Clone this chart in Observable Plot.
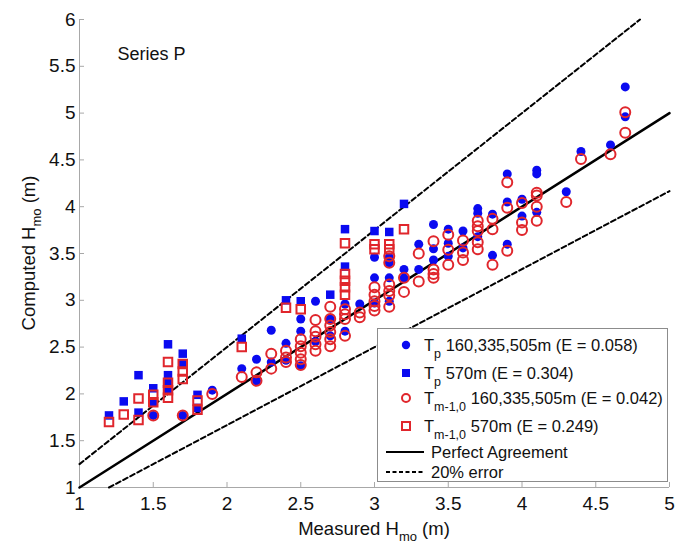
<!DOCTYPE html>
<html><head><meta charset="utf-8">
<script src="https://cdn.jsdelivr.net/npm/d3@7"></script>
<script src="https://cdn.jsdelivr.net/npm/@observablehq/plot@0.6"></script>
<style>
body{margin:0;background:#fff;font-family:"Liberation Sans",Arial,sans-serif;}
#wrap{position:relative;width:676px;height:544px;}
#legend{position:absolute;left:377px;top:328px;width:291px;height:154px;border:1px solid #8c8c8c;background:#fff;box-sizing:border-box;}
.row{position:absolute;left:0;width:288px;height:20px;line-height:20px;font-size:16.5px;color:#111;white-space:nowrap;}
.row svg{position:absolute;}
.row .t{position:absolute;top:0;}
.sub{position:relative;top:7px;font-size:12.5px;}
</style></head><body><div id="wrap"><div id="legend"></div></div>
<script>
// ---- data ----
const xTicks = [1, 1.5, 2, 2.5, 3, 3.5, 4, 4.5, 5];
const yTicks = [1, 1.5, 2, 2.5, 3, 3.5, 4, 4.5, 5, 5.5, 6];

// Tp 160,335,505m (blue filled circles)
const tpMeasured = [1.5,1.7,1.9,2.1,2.2,2.2,2.3,2.3,2.4,2.4,2.5,2.5,2.5,2.6,2.6,2.7,2.7,2.8,2.8,2.9,
  3.0,3.0,3.0,3.1,3.1,3.1,3.1,3.2,3.2,3.3,3.3,3.4,3.4,3.4,3.5,3.5,3.5,3.6,3.6,3.7,3.7,3.7,3.8,3.8,
  3.9,3.9,3.9,4.0,4.0,4.1,4.1,4.1,4.3,4.4,4.6,4.7,4.7];
const tpComputed = [1.77,1.77,2.04,2.27,2.37,2.14,2.68,2.34,2.54,2.36,2.80,2.67,2.30,2.99,2.56,2.80,2.62,2.96,2.67,2.96,
  3.46,3.24,2.97,3.46,3.40,3.24,2.99,3.33,3.24,3.60,3.33,3.81,3.55,3.43,3.76,3.61,3.47,3.74,3.56,3.98,3.93,3.68,3.92,3.48,
  4.35,4.05,3.60,4.08,3.90,4.39,4.35,3.94,4.16,4.59,4.66,5.28,4.96];

// Tp 570m (blue filled squares)
const tp570Measured = [1.2,1.3,1.4,1.4,1.5,1.5,1.6,1.6,1.6,1.6,1.7,1.7,1.8,1.8,2.1,2.4,2.5,2.7,2.8,2.8,3.0,3.1,3.2];
const tp570Computed = [1.77,1.92,2.20,1.80,2.06,1.91,2.53,2.20,2.12,2.04,2.43,2.32,1.99,1.85,2.59,3.00,2.99,3.06,3.76,3.36,3.74,3.73,4.03];

// Tm-1,0 160,335,505m (red open circles)
const tmMeasured = [1.5,1.7,1.9,2.1,2.2,2.2,2.3,2.3,2.4,2.4,2.4,2.5,2.5,2.5,2.5,2.5,2.6,2.6,2.6,2.6,2.6,
  2.7,2.7,2.7,2.7,2.7,2.7,2.8,2.8,2.8,2.8,2.9,2.9,3.0,3.0,3.0,3.0,3.0,3.1,3.1,3.1,3.1,3.1,3.1,
  3.2,3.2,3.3,3.3,3.4,3.4,3.4,3.4,3.5,3.5,3.5,3.6,3.6,3.6,3.7,3.7,3.7,3.7,3.7,3.8,3.8,3.8,
  3.9,3.9,3.9,4.0,4.0,4.0,4.1,4.1,4.1,4.1,4.3,4.4,4.6,4.7,4.7];
const tmComputed = [1.77,1.77,2.00,2.18,2.23,2.14,2.43,2.27,2.46,2.39,2.34,2.585,2.51,2.44,2.37,2.31,2.79,2.67,2.61,2.53,2.46,
  2.93,2.80,2.73,2.66,2.585,2.51,2.905,2.85,2.80,2.62,2.87,2.82,3.14,3.06,2.99,2.94,2.89,3.47,3.40,3.17,3.10,3.05,2.93,
  3.24,3.09,3.50,3.20,3.63,3.33,3.28,3.24,3.70,3.54,3.38,3.64,3.51,3.43,3.85,3.79,3.74,3.62,3.545,3.87,3.76,3.38,
  4.26,3.99,3.53,4.04,3.83,3.75,4.15,4.12,4.00,3.85,4.05,4.51,4.56,5.01,4.79];

// Tm-1,0 570m (red open squares)
const tm570Measured = [1.2,1.3,1.4,1.4,1.5,1.5,1.6,1.6,1.6,1.6,1.7,1.7,1.7,1.8,1.8,2.1,2.4,2.5,2.8,2.8,2.8,2.8,2.8,3.0,3.0,3.1,3.1,3.2];
const tm570Computed = [1.70,1.78,1.95,1.72,1.99,1.91,2.34,2.12,2.04,1.96,2.32,2.24,2.16,1.93,1.83,2.50,2.92,2.905,3.61,3.28,3.21,3.14,3.06,3.60,3.545,3.60,3.545,3.76];

// reference lines
const perfectX = [1, 5], perfectY = [1, 5];
const upperX = [1, 4.8], upperY = [1.25, 6];
const lowerX = [1.2, 5], lowerY = [1, 4.1667];

const zip = (xs, ys) => xs.map((x, i) => ({x, y: ys[i]}));
const BLUE = "#0a0af0", RED = "#e0262c", AXIS = "#a8a8a8";

const chart = Plot.plot({
  width: 676, height: 544,
  marginLeft: 79, marginRight: 7, marginTop: 19, marginBottom: 57,
  style: {fontFamily: "'Liberation Sans', Arial, sans-serif", fontSize: "18px", color: "#111", background: "transparent", overflow: "visible"},
  x: {domain: [1, 5]},
  y: {domain: [1, 6]},
  marks: [
    Plot.ruleX([xTicks[0]], {stroke: AXIS}),
    Plot.ruleY([yTicks[0]], {stroke: AXIS}),
    Plot.axisX(xTicks, {tickSize: -5, tickPadding: 14, tickFormat: d => String(d), label: null, stroke: AXIS, fill: "#111", fontSize: 19}),
    Plot.axisY(yTicks, {tickSize: -5, tickPadding: 9, tickFormat: d => String(d), label: null, stroke: AXIS, fill: "#111", fontSize: 19}),
    Plot.line(zip(upperX, upperY), {x: "x", y: "y", stroke: "#000", strokeWidth: 2, strokeDasharray: "5,3"}),
    Plot.line(zip(lowerX, lowerY), {x: "x", y: "y", stroke: "#000", strokeWidth: 2, strokeDasharray: "5,3"}),
    Plot.line(zip(perfectX, perfectY), {x: "x", y: "y", stroke: "#000", strokeWidth: 2.5}),
    Plot.dot(zip(tpMeasured, tpComputed), {x: "x", y: "y", r: 4.5, fill: BLUE, stroke: "none"}),
    Plot.dot(zip(tp570Measured, tp570Computed), {x: "x", y: "y", r: 4.8, symbol: "square", fill: BLUE, stroke: "none"}),
    Plot.dot(zip(tmMeasured, tmComputed), {x: "x", y: "y", r: 5, fill: "none", stroke: RED, strokeWidth: 2}),
    Plot.dot(zip(tm570Measured, tm570Computed), {x: "x", y: "y", r: 4.8, symbol: "square", fill: "none", stroke: RED, strokeWidth: 2}),
    Plot.text(["Series P"], {frameAnchor: "top-left", dx: 38, dy: 28, textAnchor: "start", fontSize: 18, fill: "#111"})
  ]
});

// axis titles with subscripts
const svg = d3.select(chart);
const xl = svg.append("text").attr("x", 374).attr("y", 535).attr("text-anchor", "middle")
  .attr("font-size", 18.5).attr("fill", "#111");
xl.append("tspan").text("Measured H");
xl.append("tspan").attr("dy", 6).attr("font-size", 13).text("mo");
xl.append("tspan").attr("dy", -6).text(" (m)");
const yl = svg.append("text").attr("transform", "translate(35,253) rotate(-90)").attr("text-anchor", "middle")
  .attr("font-size", 18.5).attr("fill", "#111");
yl.append("tspan").text("Computed H");
yl.append("tspan").attr("dy", 6).attr("font-size", 13).text("mo");
yl.append("tspan").attr("dy", -6).text(" (m)");

const wrap = document.getElementById("wrap");
wrap.insertBefore(chart, wrap.firstChild);

// legend
const legendItems = [
  {sym: "circle", main: "T", sub: "p", rest: " 160,335,505m (E = 0.058)", cy: 16},
  {sym: "square", main: "T", sub: "p", rest: " 570m (E = 0.304)", cy: 44},
  {sym: "ocircle", main: "T", sub: "m-1,0", rest: " 160,335,505m (E = 0.042)", cy: 69},
  {sym: "osquare", main: "T", sub: "m-1,0", rest: " 570m (E = 0.249)", cy: 97},
  {sym: "solid", main: "Perfect Agreement", sub: "", rest: "", cy: 123},
  {sym: "dash", main: "20% error", sub: "", rest: "", cy: 143}
];
const legend = document.getElementById("legend");
for (const it of legendItems) {
  const row = document.createElement("div");
  row.className = "row";
  row.style.top = (it.cy - 10) + "px";
  let symSvg;
  if (it.sym === "solid" || it.sym === "dash") {
    symSvg = `<svg width="40" height="20" style="left:7px;top:0"><line x1="1" y1="10" x2="39" y2="10" stroke="#000" stroke-width="${it.sym === "solid" ? 2.2 : 2}" ${it.sym === "dash" ? 'stroke-dasharray="4,2.5"' : ""}/></svg>`;
  } else {
    let shape = "";
    if (it.sym === "circle") shape = `<circle cx="7" cy="7" r="4.2" fill="${BLUE}"/>`;
    if (it.sym === "square") shape = `<rect x="3" y="3" width="8" height="8" fill="${BLUE}"/>`;
    if (it.sym === "ocircle") shape = `<circle cx="7" cy="7" r="4" fill="none" stroke="${RED}" stroke-width="2"/>`;
    if (it.sym === "osquare") shape = `<rect x="3" y="3" width="8" height="8" fill="none" stroke="${RED}" stroke-width="2"/>`;
    symSvg = `<svg width="14" height="14" style="left:21px;top:3px">${shape}</svg>`;
  }
  const left = it.sub ? 46 : 53;
  const text = it.sub
    ? `${it.main}<span class="sub">${it.sub}</span>${it.rest}`
    : it.main;
  row.innerHTML = symSvg + `<span class="t" style="left:${left}px">${text}</span>`;
  legend.appendChild(row);
}
</script>
</body></html>
